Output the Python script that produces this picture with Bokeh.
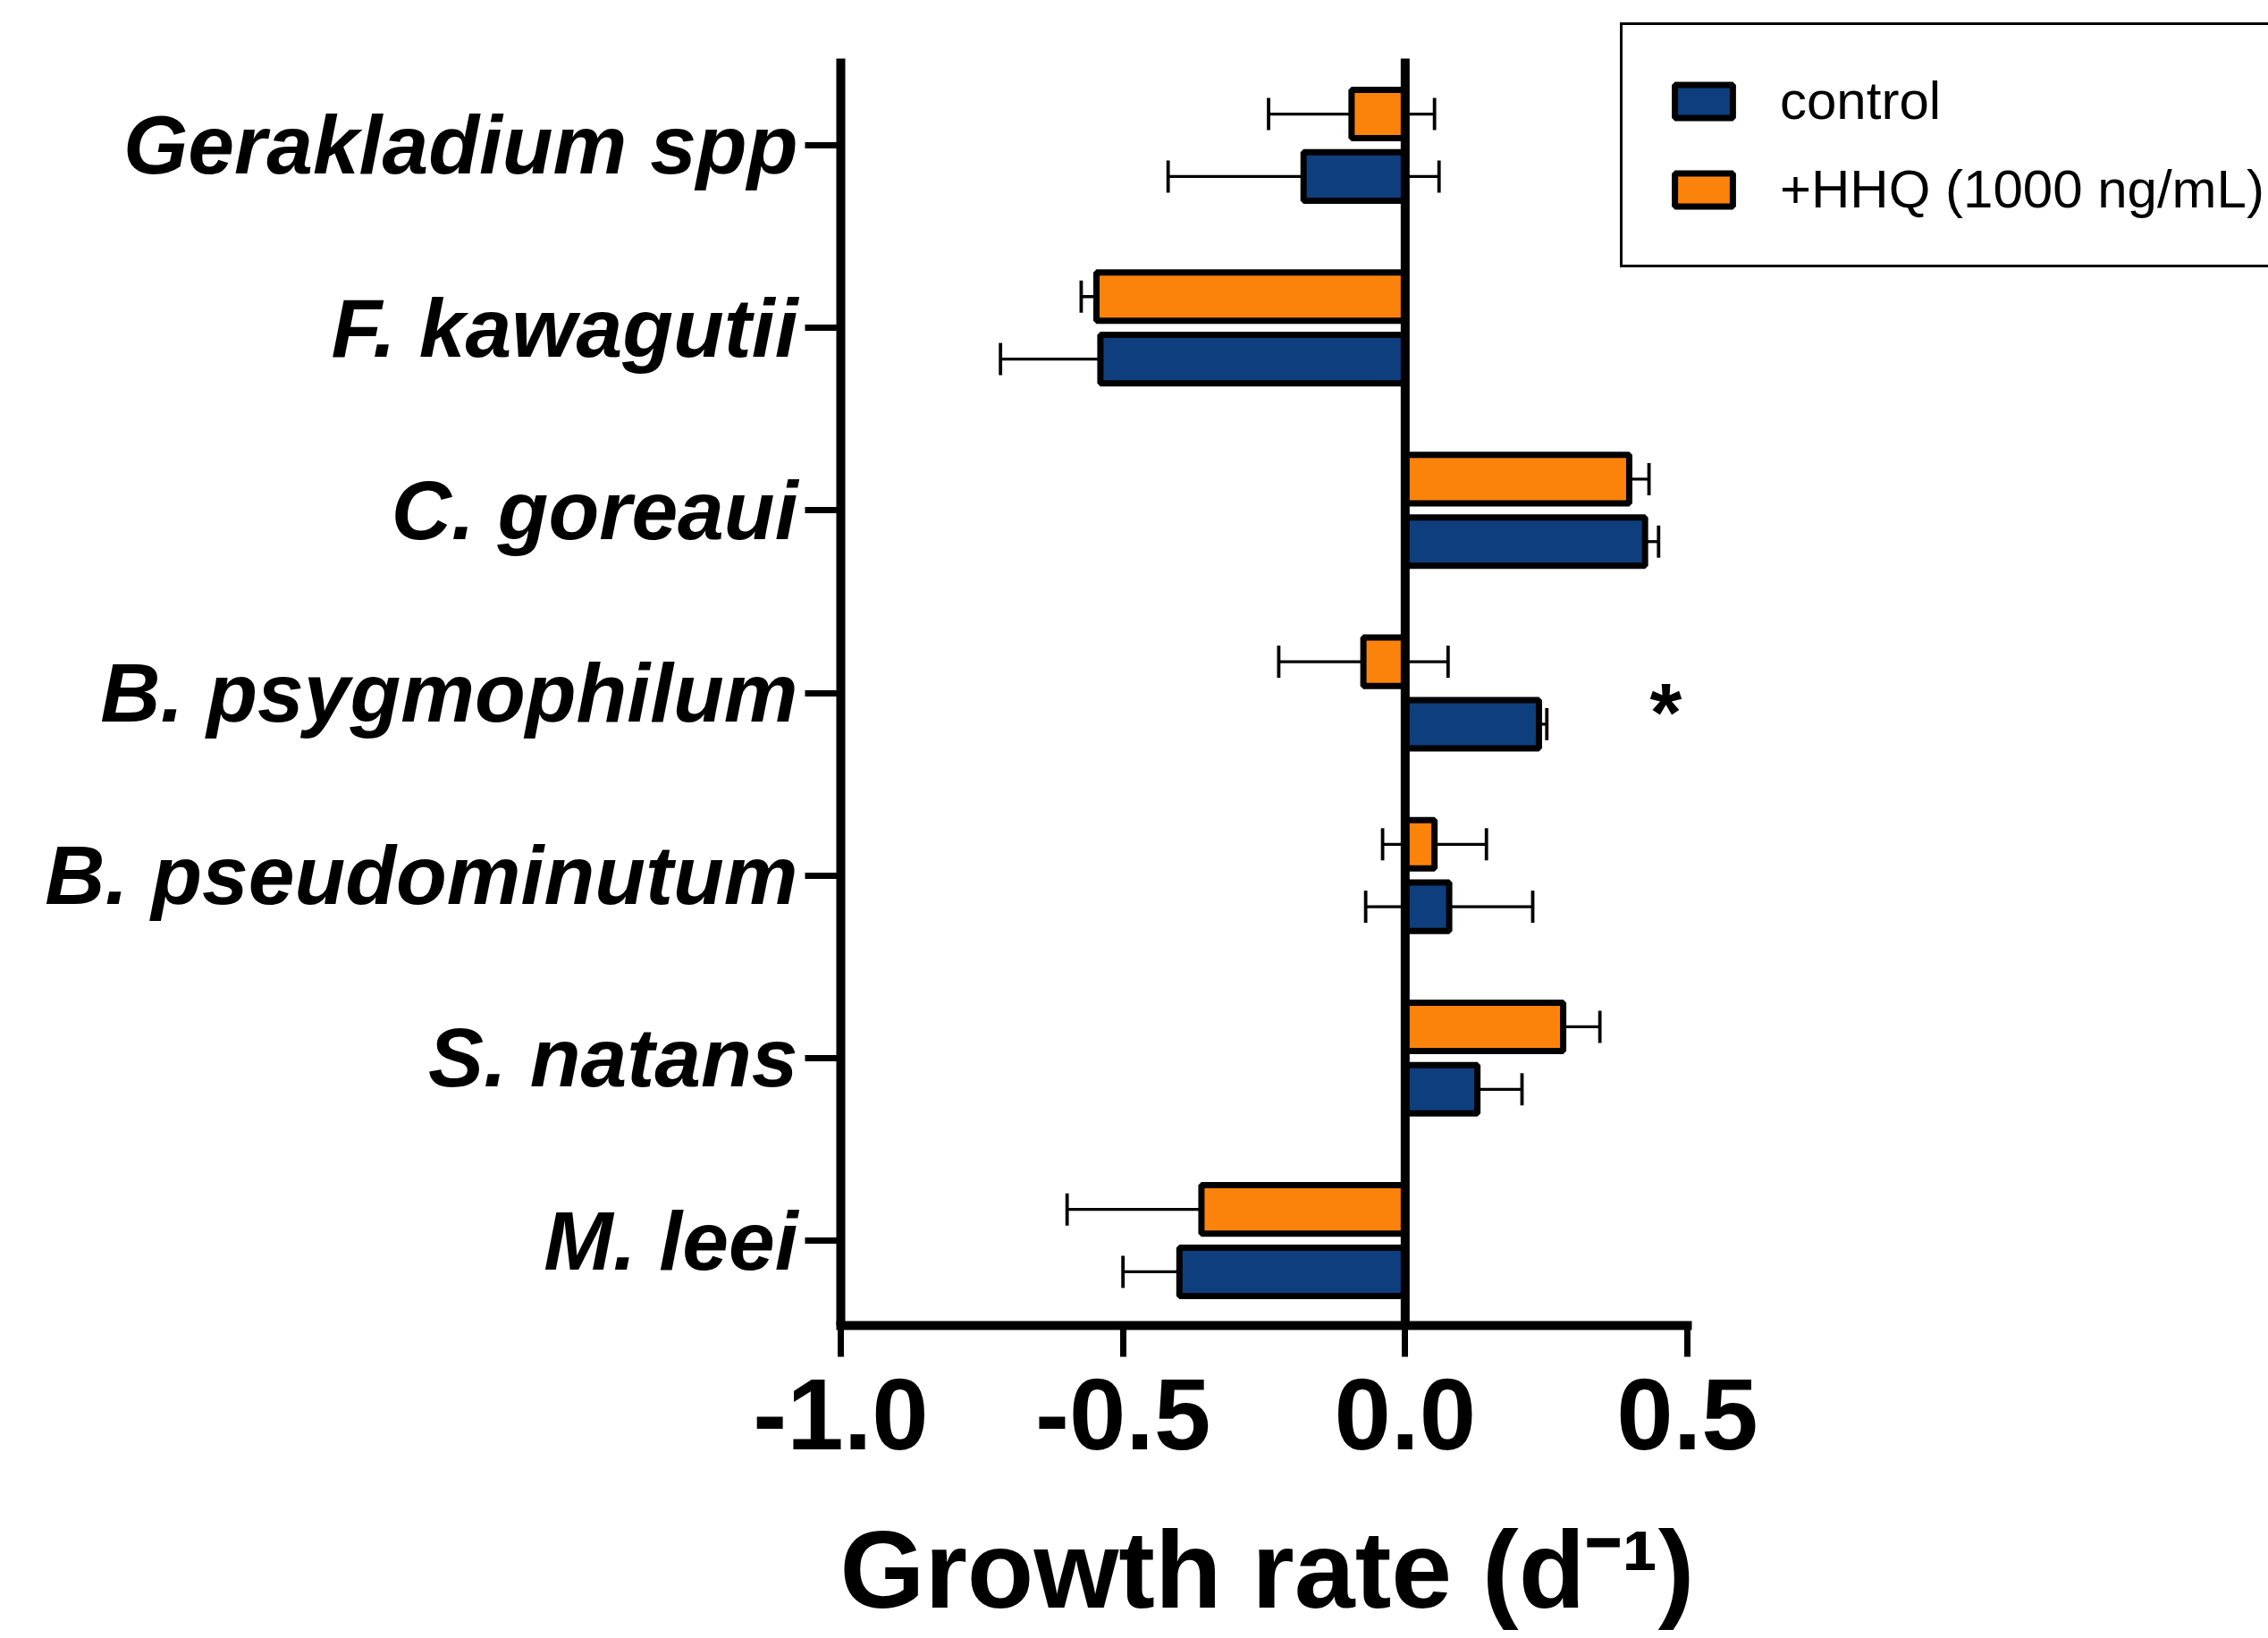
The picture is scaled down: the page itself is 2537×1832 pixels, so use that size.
from bokeh.plotting import figure
from bokeh.models import (Range1d, FixedTicker, ColumnDataSource, Whisker, TeeHead,
                          Legend, LegendItem, Title)
from bokeh.embed import file_html
from bokeh.resources import INLINE
from bokeh.core.properties import value

# ---------------- data ----------------
species = ["Gerakladium spp", "F. kawagutii", "C. goreaui", "B. psygmophilum",
           "B. pseudominutum", "S. natans", "M. leei"]
control_mean = [-0.180, -0.540, 0.425, 0.237, 0.078, 0.128, -0.400]
control_sd = [0.240, 0.177, 0.024, 0.014, 0.148, 0.079, 0.100]
hhq_mean = [-0.095, -0.547, 0.397, -0.074, 0.052, 0.280, -0.361]
hhq_sd = [0.147, 0.027, 0.035, 0.150, 0.092, 0.065, 0.238]

x_ticks = [-1.0, -0.5, 0.0, 0.5]
x_tick_labels = ["-1.0", "-0.5", "0.0", "0.5"]

sig_species = ["B. psygmophilum"]
sig_marks = ["*"]
sig_x = [0.462]

series_labels = ["control", "+HHQ (1000 ng/mL)"]
x_title = "Growth rate (d\u207b\u00b9)"

# ---------------- layout / styles ----------------
W, H = 2537, 1832
X_AXIS = (-1.0, 0.5)          # drawn extent of the value axis
Y_AXIS = (-0.475, 6.465)      # drawn extent of the category axis
FRAME_LEFT, AXIS_RIGHT_PX = 940, 1887   # pixel columns of -1.0 and 0.5
AXIS_TOP_PX, FRAME_BOTTOM = 65, 1482    # pixel rows of the category-axis ends

BLUE = "#0E3E7E"
ORANGE = "#FC830B"
FONT = "Liberation Sans"
BAR_H = 0.265
OFF = 0.171

# the frame reaches the right and top edges (so the legend is not clipped);
# the axes themselves are limited with `bounds`
px_per_x = (AXIS_RIGHT_PX - FRAME_LEFT) / (X_AXIS[1] - X_AXIS[0])
x_end = X_AXIS[0] + (W - FRAME_LEFT) / px_per_x
px_per_y = (FRAME_BOTTOM - AXIS_TOP_PX) / (Y_AXIS[1] - Y_AXIS[0])
y_top = Y_AXIS[0] - AXIS_TOP_PX / px_per_y

idx = list(range(len(species)))

ctrl = ColumnDataSource(dict(
    y=[i + OFF for i in idx], m=control_mean,
    lo=[m - s for m, s in zip(control_mean, control_sd)],
    hi=[m + s for m, s in zip(control_mean, control_sd)]))
hhq = ColumnDataSource(dict(
    y=[i - OFF for i in idx], m=hhq_mean,
    lo=[m - s for m, s in zip(hhq_mean, hhq_sd)],
    hi=[m + s for m, s in zip(hhq_mean, hhq_sd)]))

p = figure(width=W, height=H, output_backend="svg", toolbar_location=None,
           x_range=Range1d(X_AXIS[0], x_end), y_range=Range1d(Y_AXIS[1], y_top),
           min_border_left=FRAME_LEFT, min_border_right=0, min_border_top=0,
           min_border_bottom=H - FRAME_BOTTOM)
p.xgrid.visible = False
p.ygrid.visible = False
p.outline_line_color = None
p.background_fill_color = "white"
p.border_fill_color = "white"

r_ctrl = p.hbar(y="y", right="m", left=0, height=BAR_H, source=ctrl,
                fill_color=BLUE, line_color="black", line_width=7)
r_hhq = p.hbar(y="y", right="m", left=0, height=BAR_H, source=hhq,
               fill_color=ORANGE, line_color="black", line_width=7)

# zero line (baseline of the bars), same extent as the category axis
p.segment(x0=[0], y0=[Y_AXIS[0]], x1=[0], y1=[Y_AXIS[1]], line_color="black",
          line_width=10)

for src in (ctrl, hhq):
    w = Whisker(source=src, base="y", lower="lo", upper="hi", dimension="width",
                line_color="black", line_width=3.3,
                lower_head=TeeHead(size=36, line_width=3.8, line_color="black"),
                upper_head=TeeHead(size=36, line_width=3.8, line_color="black"))
    p.add_layout(w)

p.text(x=sig_x, y=[species.index(s) for s in sig_species], text=sig_marks,
       text_font=value(FONT), text_font_size=value("92px"), text_font_style="bold",
       text_align="center", text_baseline="middle", y_offset=22, text_color="black")

# x axis
xa = p.xaxis[0]
xa.bounds = X_AXIS
xa.ticker = FixedTicker(ticks=x_ticks)
xa.major_label_overrides = dict(zip(x_ticks, x_tick_labels))
xa.axis_line_width = 10
xa.axis_line_cap = "square"
xa.major_tick_line_width = 7
xa.major_tick_out = 35
xa.major_tick_in = 0
xa.minor_tick_line_color = None
xa.major_label_text_font = FONT
xa.major_label_text_font_size = "114px"
xa.major_label_text_font_style = "bold"
xa.major_label_text_color = "black"
xa.major_label_standoff = 25

# gap between tick labels and the x-axis title
p.add_layout(Title(text=" ", text_font_size="2px", standoff=58), "below")
# x-axis title, left-aligned with the axis start
title = Title(text=x_title, align="left", offset=-1, standoff=0,
              vertical_align="bottom",
              text_font=FONT, text_font_size="122px", text_font_style="bold",
              text_color="black")
p.add_layout(title, "below")

# y axis
ya = p.yaxis[0]
ya.bounds = Y_AXIS
ya.ticker = FixedTicker(ticks=idx)
ya.major_label_overrides = {i: s for i, s in zip(idx, species)}
ya.axis_line_width = 10
ya.major_tick_line_width = 7
ya.major_tick_out = 40
ya.major_tick_in = 0
ya.minor_tick_line_color = None
ya.major_label_text_font = FONT
ya.major_label_text_font_size = "93px"
ya.major_label_text_font_style = "bold italic"
ya.major_label_text_color = "black"
ya.major_label_standoff = 8

legend = Legend(items=[LegendItem(label=series_labels[0], renderers=[r_ctrl]),
                       LegendItem(label=series_labels[1], renderers=[r_hhq])],
                location=(872, 1183))
legend.label_text_font = FONT
legend.label_text_font_size = "60px"
legend.label_text_color = "black"
legend.glyph_width = 81
legend.glyph_height = 46
legend.label_standoff = 45
legend.spacing = 30
legend.padding = 50
legend.margin = 0
legend.border_line_color = "black"
legend.border_line_alpha = 1.0
legend.border_line_width = 3
legend.background_fill_color = "white"
legend.background_fill_alpha = 1.0
p.add_layout(legend, "center")

open("out.html", "w").write(file_html(p, INLINE))
